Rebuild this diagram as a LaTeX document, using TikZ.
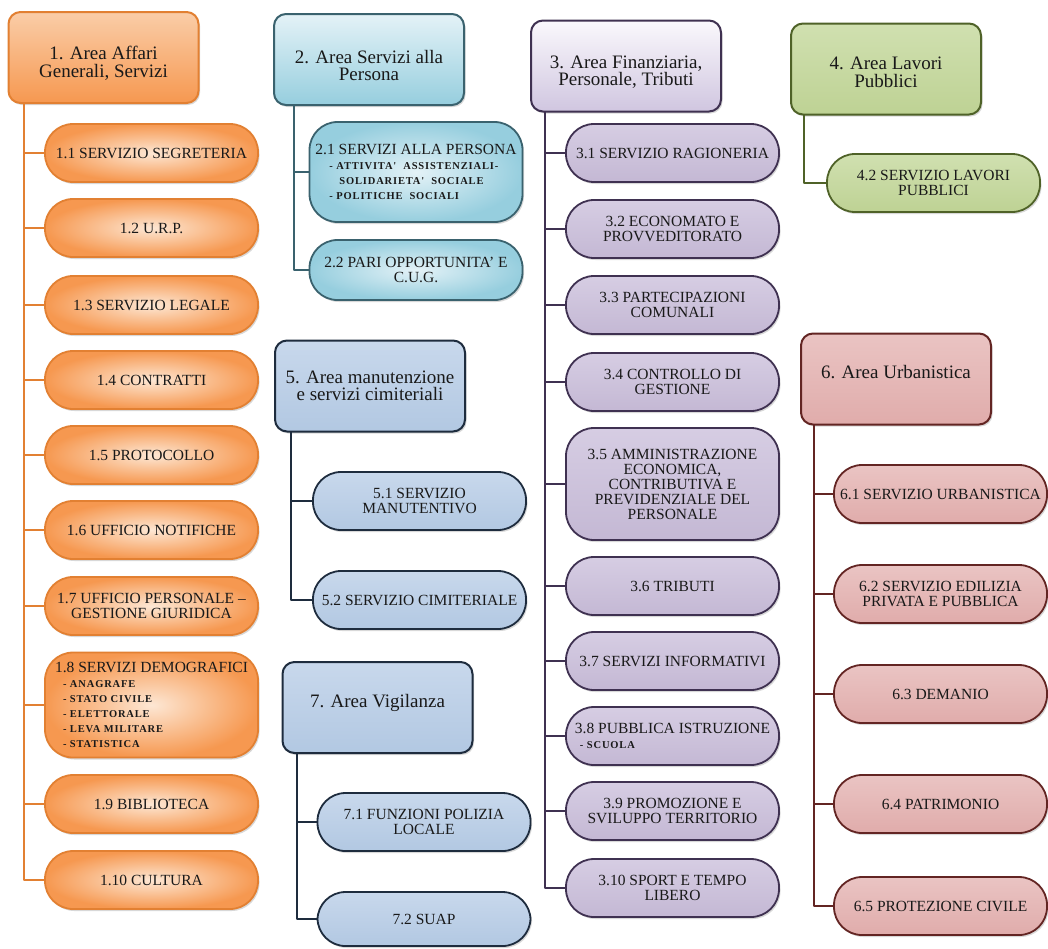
\documentclass[tikz,border=0pt]{standalone}
\usepackage{fontspec}
\setmainfont{Liberation Serif}
\newfontfamily\subfam[LetterSpace=8]{Liberation Serif}
\usetikzlibrary{shadows}

% colori delle aree
\definecolor{orgline}{RGB}{226,128,50}
\definecolor{orgtop}{RGB}{250,205,168}
\definecolor{orgbot}{RGB}{246,152,80}
\definecolor{orglight}{RGB}{253,231,212}
\definecolor{cyanline}{RGB}{58,98,110}
\definecolor{cyantop}{RGB}{228,242,247}
\definecolor{cyanbot}{RGB}{150,206,222}
\definecolor{blueline}{RGB}{30,44,62}
\definecolor{bluetop}{RGB}{200,216,236}
\definecolor{bluebot}{RGB}{178,200,226}
\definecolor{purline}{RGB}{63,49,81}
\definecolor{purtop}{RGB}{250,248,252}
\definecolor{purbot}{RGB}{208,198,224}
\definecolor{purlight}{RGB}{214,205,227}
\definecolor{purdark}{RGB}{196,184,212}
\definecolor{grnline}{RGB}{79,98,40}
\definecolor{grntop}{RGB}{208,224,176}
\definecolor{grnbot}{RGB}{190,210,148}
\definecolor{pnkline}{RGB}{99,37,35}
\definecolor{pnktop}{RGB}{234,196,195}
\definecolor{pnkbot}{RGB}{224,172,171}

\newcommand{\subtxt}{\subfam\bfseries\fontsize{10.5}{13.5}\selectfont}
% puntello per abbassare il testo delle aree
\newcommand{\lowstrut}[1][25pt]{\rule{0pt}{#1}}

\begin{document}
\begin{tikzpicture}[x=1pt,y=-1pt,line cap=round,line join=round,
    areabox/.style={rounded corners=12pt,minimum width=190pt,minimum height=91pt,align=center,line width=2pt,text=black!90,
        font=\fontsize{19}{17.5}\selectfont,drop shadow={shadow xshift=1.5pt,shadow yshift=-2pt,opacity=.3}},
    unitbox/.style={rounded corners=28pt,minimum width=213pt,minimum height=58pt,align=center,line width=1.8pt,text=black!90,
        font=\fontsize{15.5}{15}\selectfont,drop shadow={shadow xshift=1.5pt,shadow yshift=-2pt,opacity=.3}},
    onehead/.style={text depth=14pt},
    ohead/.style={areabox,draw=orgline,top color=orgtop,bottom color=orgbot},
    ounit/.style={unitbox,draw=orgline,inner color=orglight,outer color=orgbot},
    owire/.style={orgline,line width=2.8pt},
    chead/.style={areabox,draw=cyanline,top color=cyantop,bottom color=cyanbot},
    cunit/.style={unitbox,draw=cyanline,inner color=cyantop,outer color=cyanbot},
    cwire/.style={cyanline,line width=2.3pt},
    phead/.style={areabox,draw=purline,top color=purtop,bottom color=purbot},
    punit/.style={unitbox,draw=purline,top color=purlight,bottom color=purdark},
    pwire/.style={purline,line width=2.3pt},
    ghead/.style={areabox,draw=grnline,top color=grntop,bottom color=grnbot},
    gunit/.style={unitbox,draw=grnline,top color=grntop,bottom color=grnbot},
    gwire/.style={grnline,line width=2.3pt},
    bhead/.style={areabox,draw=blueline,top color=bluetop,bottom color=bluebot},
    bunit/.style={unitbox,draw=blueline,top color=bluetop,bottom color=bluebot},
    bwire/.style={blueline,line width=2.3pt},
    rhead/.style={areabox,draw=pnkline,top color=pnktop,bottom color=pnkbot},
    runit/.style={unitbox,draw=pnkline,top color=pnktop,bottom color=pnkbot},
    rwire/.style={pnkline,line width=2.3pt}]
\path[use as bounding box,fill=white] (0,0) rectangle (1048,948);

% area 1
\node[ohead] (area1) at (103.5,57.5) {\lowstrut 1. Area Affari\\Generali, Servizi};
\node[ounit] (s1-1) at (151.5,153) {1.1 SERVIZIO SEGRETERIA};
\node[ounit] (s1-2) at (151.5,228) {1.2 U.R.P.};
\node[ounit] (s1-3) at (151.5,305) {1.3 SERVIZIO LEGALE};
\node[ounit] (s1-4) at (151.5,380) {1.4 CONTRATTI};
\node[ounit] (s1-5) at (151.5,455) {1.5 PROTOCOLLO};
\node[ounit] (s1-6) at (151.5,530) {1.6 UFFICIO NOTIFICHE};
\node[ounit] (s1-7) at (151.5,606) {1.7 UFFICIO PERSONALE --\\GESTIONE GIURIDICA};
\node[ounit,minimum height=105pt,align=left] (s1-8) at (151.5,705) {1.8 SERVIZI DEMOGRAFICI\\
    \subtxt\hspace*{8pt}- ANAGRAFE\\ \subtxt\hspace*{8pt}- STATO CIVILE\\ \subtxt\hspace*{8pt}- ELETTORALE\\
    \subtxt\hspace*{8pt}- LEVA MILITARE\\ \subtxt\hspace*{8pt}- STATISTICA};
\node[ounit] (s1-9) at (151.5,804) {1.9 BIBLIOTECA};
\node[ounit] (s1-10) at (151.5,880) {1.10 CULTURA};

% area 2
\node[chead] (area2) at (369,59.5) {\lowstrut 2. Area Servizi alla\\Persona};
\node[cunit,minimum height=100pt,align=left] (s2-1) at (416,172) {2.1 SERVIZI ALLA PERSONA\\
    \subtxt\hspace*{14pt}- ATTIVITA'~~ASSISTENZIALI-\\ \subtxt\hspace*{24pt}SOLIDARIETA'~~SOCIALE\\
    \subtxt\hspace*{14pt}- POLITICHE~~SOCIALI};
\node[cunit,minimum height=60pt] (s2-2) at (416,270) {2.2 PARI OPPORTUNITA' E\\C.U.G.};

% area 3
\node[phead] (area3) at (626,66) {\lowstrut 3. Area Finanziaria,\\Personale, Tributi};
\node[punit] (s3-1) at (672.5,153) {3.1 SERVIZIO RAGIONERIA};
\node[punit] (s3-2) at (672.5,229) {3.2 ECONOMATO E\\PROVVEDITORATO};
\node[punit] (s3-3) at (672.5,305) {3.3 PARTECIPAZIONI\\COMUNALI};
\node[punit] (s3-4) at (672.5,382) {3.4 CONTROLLO DI\\GESTIONE};
\node[punit,minimum height=112pt] (s3-5) at (672.5,484) {3.5 AMMINISTRAZIONE\\ECONOMICA,\\CONTRIBUTIVA E\\PREVIDENZIALE DEL\\PERSONALE};
\node[punit] (s3-6) at (672.5,586) {3.6 TRIBUTI};
\node[punit] (s3-7) at (672.5,661) {3.7 SERVIZI INFORMATIVI};
\node[punit,align=left] (s3-8) at (672.5,736) {3.8 PUBBLICA ISTRUZIONE\\ \subtxt\hspace*{5pt}- SCUOLA};
\node[punit] (s3-9) at (672.5,811) {3.9 PROMOZIONE E\\SVILUPPO TERRITORIO};
\node[punit] (s3-10) at (672.5,888) {3.10 SPORT E TEMPO\\LIBERO};

% area 4
\node[ghead] (area4) at (886,69) {\lowstrut[19pt]4. Area Lavori\\Pubblici};
\node[gunit] (s4-2) at (933.5,183) {4.2 SERVIZIO LAVORI\\PUBBLICI};

% area 5
\node[bhead] (area5) at (370,386) {5. Area manutenzione\\e servizi cimiteriali};
\node[bunit] (s5-1) at (419.5,501) {5.1 SERVIZIO\\MANUTENTIVO};
\node[bunit] (s5-2) at (419.5,600) {5.2 SERVIZIO CIMITERIALE};

% area 6
\node[rhead,onehead] (area6) at (896,379) {6. Area Urbanistica};
\node[runit] (s6-1) at (940.5,494) {6.1 SERVIZIO URBANISTICA};
\node[runit] (s6-2) at (940.5,594) {6.2 SERVIZIO EDILIZIA\\PRIVATA E PUBBLICA};
\node[runit] (s6-3) at (940.5,694) {6.3 DEMANIO};
\node[runit] (s6-4) at (940.5,804) {6.4 PATRIMONIO};
\node[runit] (s6-5) at (940.5,906) {6.5 PROTEZIONE CIVILE};

% area 7
\node[bhead,onehead] (area7) at (377.5,707.5) {7. Area Vigilanza};
\node[bunit] (s7-1) at (424,822) {7.1 FUNZIONI POLIZIA\\LOCALE};
\node[bunit,minimum height=54pt] (s7-2) at (424,919) {7.2 SUAP};

% collegamenti
\foreach \i in {1,...,10} \draw[owire] (area1.south west) ++(16.5,0) |- (s1-\i.west);
\foreach \i in {1,2} \draw[cwire] (area2.south west) ++(21,0) |- (s2-\i.west);
\foreach \i in {1,...,10} \draw[pwire] (area3.south west) ++(15,0) |- (s3-\i.west);
\draw[gwire] (area4.south west) ++(14,0) |- (s4-2.west);
\foreach \i in {1,2} \draw[bwire] (area5.south west) ++(17,0) |- (s5-\i.west);
\foreach \i in {1,...,5} \draw[rwire] (area6.south west) ++(14,0) |- (s6-\i.west);
\foreach \i in {1,2} \draw[bwire] (area7.south west) ++(15.5,0) |- (s7-\i.west);
\end{tikzpicture}
\end{document}
